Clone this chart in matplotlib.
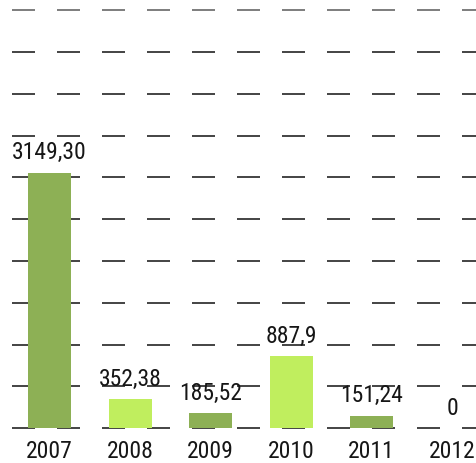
import matplotlib
matplotlib.use("Agg")
import numpy as np
from matplotlib import pyplot as plt

years = ["2007", "2008", "2009", "2010", "2011", "2012"]
values = [3149.30, 352.38, 185.52, 887.9, 151.24, 0]
value_labels = ["3149,30", "352,38", "185,52", "887,9", "151,24", "0"]
colors = ["#8db055", "#c0ee5e", "#8db055", "#c0ee5e", "#8db055", "#8db055"]

plt.rcParams['font.family'] = ['Roboto Condensed', 'DejaVu Sans']

fig = plt.figure(figsize=(4.77, 4.63), dpi=100)
ax = fig.add_axes([12 / 477, 35 / 463, 465 / 477, 417.5 / 463])

step = 515
x = np.arange(len(years))
ax.set_xlim(-0.466, 5.31)
ax.set_ylim(0, step * 10)

# dashed grid, top line lighter
lw = 1.1
for i in range(11):
    c = "#5a5a5a" if i == 10 else "#111111"
    ax.axhline(i * step, color=c, lw=lw, zorder=1,
               linestyle=(0, (23 * 0.72 / lw, 22 * 0.72 / lw)), clip_on=False)

ax.bar(x, values, width=0.534, color=colors, zorder=2)

for xi, v, lab in zip(x, values, value_labels):
    ax.annotate(lab, (xi, v), xytext=(0, 6), textcoords="offset points",
                ha="center", va="bottom", fontsize=17, color="#161616", zorder=3)

ax.set_xticks(x)
ax.set_xticklabels(years, fontsize=17, color="#161616")
ax.tick_params(axis="x", length=0, pad=9)
ax.set_yticks([])
for s in ax.spines.values():
    s.set_visible(False)

plt.savefig("out.png", dpi=100)
